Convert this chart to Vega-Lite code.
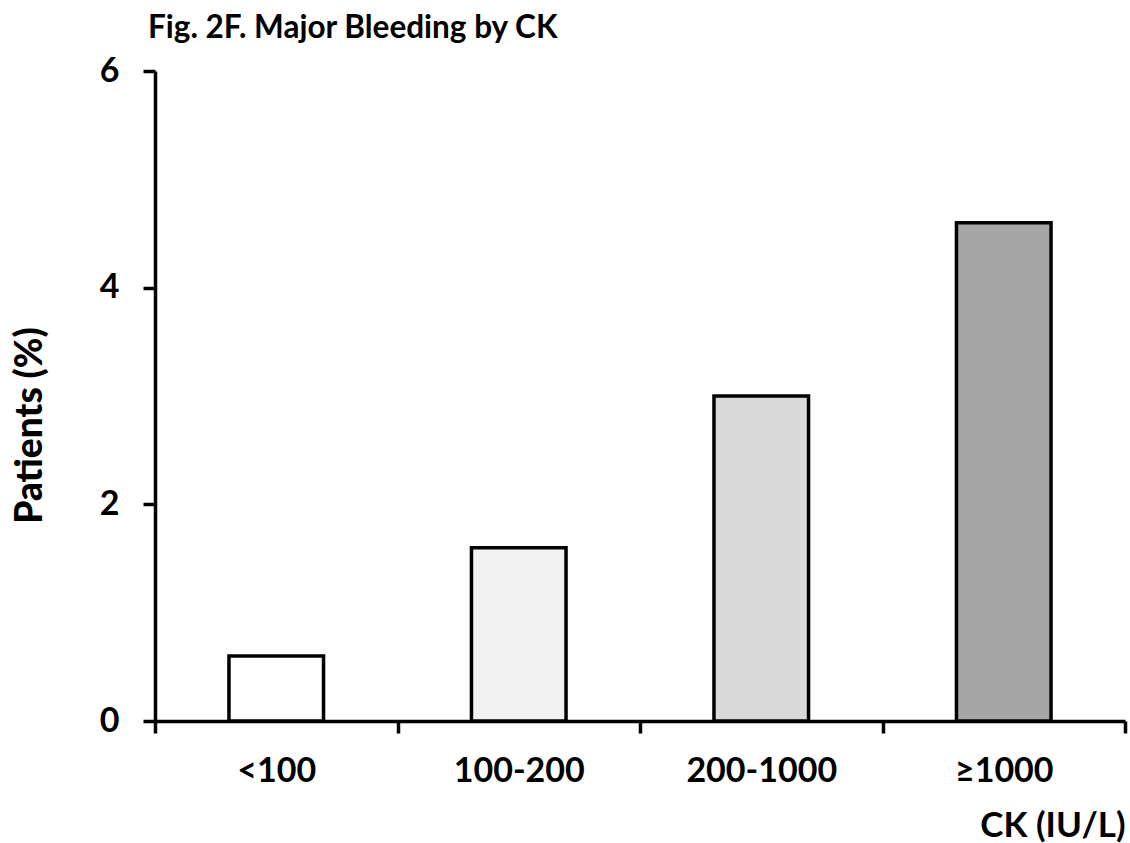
{
  "$schema": "https://vega.github.io/schema/vega-lite/v6.json",
  "autosize": {"type": "none"},
  "padding": {"left": 155, "top": 71, "right": 5, "bottom": 122},
  "width": 970,
  "height": 650,
  "background": "white",
  "title": {
    "text": "Fig. 2F. Major Bleeding by CK",
    "anchor": "start",
    "frame": "group",
    "font": "Lato",
    "fontSize": 31.5,
    "fontWeight": "bold",
    "color": "black",
    "dx": -7,
    "offset": 10
  },
  "data": {
    "values": [
      {"ck": "<100", "pct": 0.6},
      {"ck": "100-200", "pct": 1.6},
      {"ck": "200-1000", "pct": 3.0},
      {"ck": "≥1000", "pct": 4.6}
    ]
  },
  "config": {
    "view": {"stroke": null},
    "axis": {
      "labelFont": "Lato",
      "labelFontWeight": "bold",
      "labelFontSize": 34,
      "labelColor": "black",
      "titleFont": "Lato",
      "titleFontWeight": "bold",
      "titleColor": "black",
      "domainColor": "black",
      "domainWidth": 3.5,
      "tickColor": "black",
      "tickWidth": 3.5,
      "tickSize": 12,
      "grid": false
    }
  },
  "mark": {"type": "bar", "stroke": "black", "strokeWidth": 3.5, "width": {"band": 0.39}},
  "encoding": {
    "x": {
      "field": "ck",
      "type": "nominal",
      "sort": null,
      "scale": {"paddingInner": 0, "paddingOuter": 0},
      "axis": {
        "title": "CK (IU/L)",
        "titleFontSize": 35,
        "titleX": 970,
        "titleY": 115,
        "titleAlign": "right",
        "titleBaseline": "alphabetic",
        "titleAnchor": null,
        "labelAngle": 0,
        "labelBaseline": "top",
        "labelPadding": 21,
        "tickBand": "extent"
      }
    },
    "y": {
      "field": "pct",
      "type": "quantitative",
      "scale": {"domain": [0, 6]},
      "axis": {
        "title": "Patients (%)",
        "titleFontSize": 37,
        "titleFontWeight": 900,
        "titleAngle": -90,
        "titleX": -125,
        "titleY": 354,
        "titleAlign": "center",
        "titleBaseline": "middle",
        "values": [0, 2, 4, 6],
        "labelPadding": 24
      }
    },
    "color": {
      "field": "ck",
      "type": "nominal",
      "sort": null,
      "scale": {"range": ["#ffffff", "#f2f2f2", "#d9d9d9", "#a6a6a6"]},
      "legend": null
    }
  }
}
